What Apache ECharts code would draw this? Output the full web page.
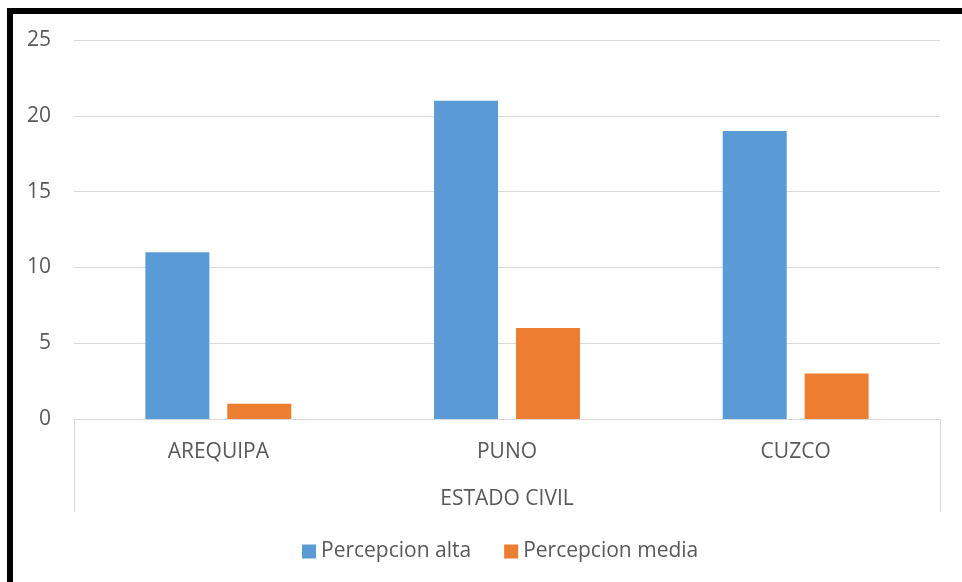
<!DOCTYPE html>
<html>
<head>
<meta charset="utf-8">
<script src="https://cdn.jsdelivr.net/npm/echarts@6/dist/echarts.min.js"></script>
<style>
  html, body { margin: 0; padding: 0; background: #fff; }
  #chart { width: 962px; height: 582px; }
</style>
</head>
<body>
<div id="chart"></div>
<script>
// datos
const regiones = ['AREQUIPA', 'PUNO', 'CUZCO'];
const grupo = ['ESTADO CIVIL'];
const percepcionAlta = [11, 21, 19];
const percepcionMedia = [1, 6, 3];
const nombresSeries = ['Percepcion alta', 'Percepcion media'];

const gris = '#595959';
const fuente = 'Open Sans';

const chart = echarts.init(document.getElementById('chart'));
chart.setOption({
  backgroundColor: '#fff',
  textStyle: { fontFamily: fuente },
  color: ['#5b9bd5', '#ed7d31'],
  grid: { left: 74, right: 22, top: 40, bottom: 163 },
  legend: {
    data: nombresSeries,
    top: 536,
    left: 297,
    itemWidth: 14,
    itemHeight: 14,
    itemGap: 33,
    icon: 'rect',
    textStyle: { color: gris, fontSize: 21, fontFamily: fuente }
  },
  xAxis: [
    {
      type: 'category',
      data: regiones,
      axisLine: { lineStyle: { color: '#d9d9d9', width: 1 } },
      axisTick: { show: false },
      axisLabel: { color: gris, fontSize: 21, margin: 23, fontFamily: fuente }
    },
    {
      type: 'category',
      data: grupo,
      position: 'bottom',
      axisLine: { show: false },
      axisTick: { show: true, length: 93, lineStyle: { color: '#d9d9d9', width: 1 } },
      axisLabel: { color: gris, fontSize: 21, margin: 70, fontFamily: fuente }
    }
  ],
  yAxis: {
    type: 'value',
    min: 0,
    max: 25,
    interval: 5,
    axisLine: { show: false },
    axisTick: { show: false },
    splitLine: { lineStyle: { color: '#d9d9d9', width: 1 } },
    axisLabel: { color: gris, fontSize: 21, margin: 23, fontFamily: fuente }
  },
  series: [
    {
      name: nombresSeries[0],
      type: 'bar',
      data: percepcionAlta,
      barWidth: 64,
      barGap: '28%'
    },
    {
      name: nombresSeries[1],
      type: 'bar',
      data: percepcionMedia,
      barWidth: 64,
      barGap: '28%'
    }
  ],
  graphic: [
    {
      type: 'rect',
      silent: true,
      shape: { x: 10, y: 11, width: 1400, height: 1400 },
      style: { fill: 'none', stroke: '#000', lineWidth: 6 }
    }
  ]
});
</script>
</body>
</html>
